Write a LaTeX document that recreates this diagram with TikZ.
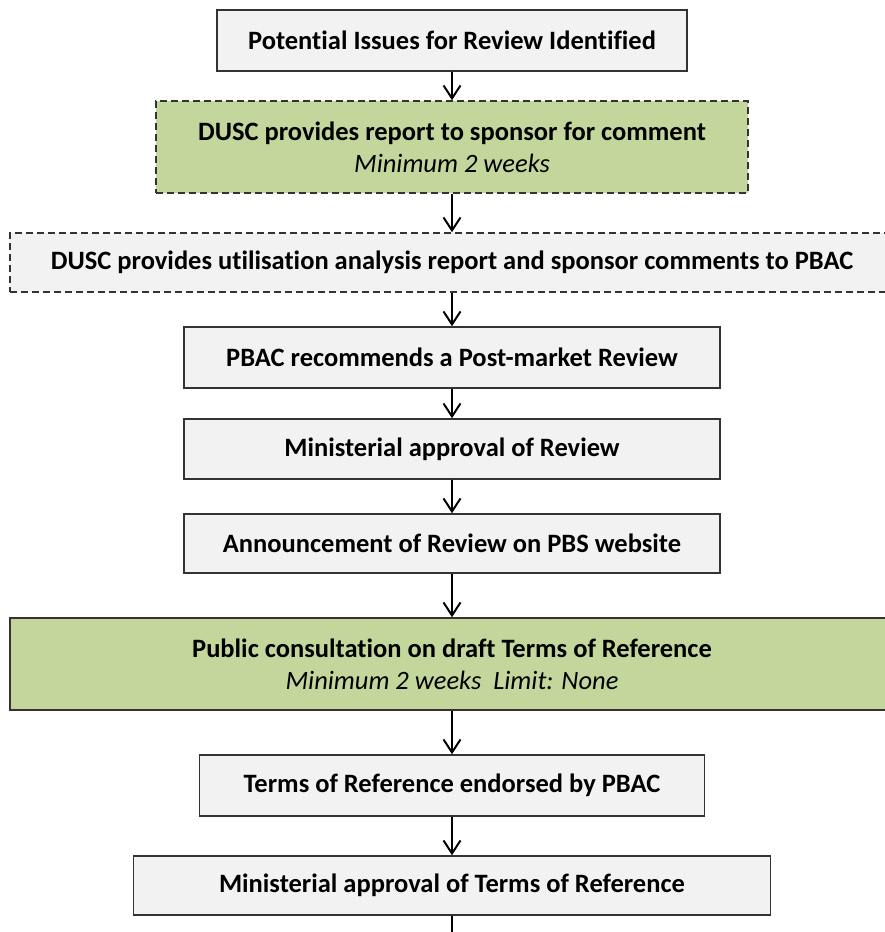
\documentclass[tikz,border=0pt]{standalone}
\usepackage{fontspec}
\setmainfont{Carlito}[Ligatures=NoCommon, RawFeature={-liga;-clig;-calt}]
\usetikzlibrary{arrows.meta}
\definecolor{boxgray}{HTML}{F2F2F2}
\definecolor{boxgreen}{HTML}{C3D69B}
\definecolor{boxline}{HTML}{333333}
\tikzstyle{stage}=[draw=boxline, line width=1.5pt, fill=boxgray, inner sep=0pt, align=center, font=\fontsize{26.5}{32}\selectfont\bfseries]
\tikzstyle{gstage}=[stage, fill=boxgreen]
\tikzstyle{dstage}=[dash pattern=on 7pt off 4pt]
\tikzstyle{flow}=[line width=2pt, -{Straight Barb[length=13pt,width=17pt,line width=2pt]}]

\begin{document}
\begin{tikzpicture}[x=1pt, y=-1pt]
        \useasboundingbox (0,0) rectangle (884,932);
        \node[stage, minimum width=470pt, minimum height=61pt] (issues) at (452, 40.5) {Potential Issues for Review Identified};
        \node[gstage, dstage, minimum width=592pt, minimum height=92pt] (report) at (452, 147) {DUSC provides report to sponsor for comment\\{\mdseries\itshape Minimum 2 weeks}};
        \node[stage, dstage, minimum width=884pt, minimum height=59pt] (analysis) at (452, 262.5) {DUSC provides utilisation analysis report and sponsor comments to PBAC};
        \node[stage, minimum width=536pt, minimum height=61pt] (recommend) at (452, 357.5) {PBAC recommends a Post-market Review};
        \node[stage, minimum width=536pt, minimum height=60pt] (approval) at (452, 449) {Ministerial approval of Review};
        \node[stage, minimum width=536pt, minimum height=59pt] (announce) at (452, 543.5) {Announcement of Review on PBS website};
        \node[gstage, minimum width=884pt, minimum height=92pt] (consult) at (452, 664) {Public consultation on draft Terms of Reference\\{\mdseries\itshape Minimum 2 weeks\ \ Limit: None}};
        \node[stage, minimum width=505pt, minimum height=61pt] (endorse) at (452, 785.5) {Terms of Reference endorsed by PBAC};
        \node[stage, minimum width=637pt, minimum height=59pt] (torapproval) at (452, 885.5) {Ministerial approval of Terms of Reference};
        \coordinate (tail) at (452, 940);
        % flow of the review
        \draw[flow] (issues) -- (report);
        \draw[flow] (report) -- (analysis);
        \draw[flow] (analysis) -- (recommend);
        \draw[flow] (recommend) -- (approval);
        \draw[flow] (approval) -- (announce);
        \draw[flow] (announce) -- (consult);
        \draw[flow] (consult) -- (endorse);
        \draw[flow] (endorse) -- (torapproval);
        \draw[line width=2pt] (torapproval) -- (tail);
    \end{tikzpicture}
\end{document}
